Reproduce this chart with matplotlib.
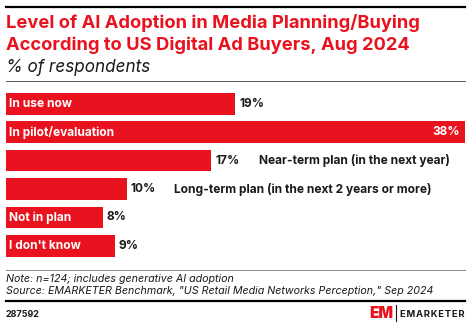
import matplotlib
matplotlib.use("Agg")
import matplotlib.pyplot as plt
from matplotlib.lines import Line2D

categories = ["In use now", "In pilot/evaluation", "Near-term plan (in the next year)",
              "Long-term plan (in the next 2 years or more)", "Not in plan", "I don't know"]
values = [19, 38, 17, 10, 8, 9]
labels_inside = [True, True, False, False, True, True]

title_lines = ["Level of AI Adoption in Media Planning/Buying",
               "According to US Digital Ad Buyers, Aug 2024"]
subtitle = "% of respondents"
note = "Note: n=124; includes generative AI adoption"
source = 'Source: EMARKETER Benchmark, "US Retail Media Networks Perception," Sep 2024'
chart_id = "287592"

RED = "#E8131F"
DARK = "#1a1a1a"
FONT = "Inter"

W, H = 470, 327
fig = plt.figure(figsize=(W / 100, H / 100), dpi=100)


def fx(px):
    return px / W


def fy(py):
    return 1 - py / H


# header rules and titles
fig.add_artist(Line2D([fx(6), fx(465)], [fy(7), fy(7)], color="black", lw=1.6))
for line, base in zip(title_lines, [28.5, 50.5]):
    fig.text(fx(6), fy(base), line, color=RED, fontsize=13.2, fontweight="bold",
             family=FONT, va="baseline", ha="left")
fig.text(fx(6), fy(72), subtitle, color=DARK, fontsize=12.3, style="italic",
         family=FONT, va="baseline", ha="left")
fig.add_artist(Line2D([fx(6), fx(465)], [fy(81), fy(81)], color="#555555", lw=0.7))

# bar chart
ax = fig.add_axes([fx(6), fy(260), fx(465) - fx(6), fy(89.6) - fy(260)])
ypos = list(range(len(values)))
ax.barh(ypos, values, height=0.757, color=RED, edgecolor="none")
ax.set_xlim(0, max(values))
ax.set_ylim(len(values) - 0.5, -0.5)
ax.axis("off")

for i, (cat, v, inside) in enumerate(zip(categories, values, labels_inside)):
    if v == max(values):
        ax.annotate(f"{v}%", (v, i), xytext=(-4, 0), textcoords="offset points",
                    ha="right", va="center", color="white", fontsize=8.6,
                    fontweight="bold", family=FONT)
    else:
        ax.annotate(f"{v}%", (v, i), xytext=(3, 0), textcoords="offset points",
                    ha="left", va="center", color=DARK, fontsize=8.6,
                    fontweight="bold", family=FONT)
    if inside:
        ax.annotate(cat, (0, i), xytext=(2.2, 0), textcoords="offset points",
                    ha="left", va="center", color="white", fontsize=8.6,
                    fontweight="bold", family=FONT)
    else:
        ax.annotate(cat, (v, i), xytext=(34, 0), textcoords="offset points",
                    ha="left", va="center", color=DARK, fontsize=8.6,
                    fontweight="bold", family=FONT)

# footer
fig.add_artist(Line2D([fx(6), fx(465)], [fy(270), fy(270)], color="#888888", lw=0.7))
for line, base in zip([note, source], [282.3, 294.3]):
    fig.text(fx(6), fy(base), line, color=DARK, fontsize=7.7, style="italic",
             family=FONT, va="baseline", ha="left")
fig.add_artist(Line2D([fx(6), fx(465)], [fy(301), fy(301)], color="black", lw=1.6))
fig.text(fx(6), fy(317), chart_id, color=DARK, fontsize=6.5, fontweight="bold",
         family=FONT, va="baseline", ha="left")

# logo
fig.text(fx(369), fy(318.5), "EM", color=RED, fontsize=11, fontweight="black",
         family=FONT, va="baseline", ha="left")
fig.add_artist(Line2D([fx(396), fx(396)], [fy(305), fy(321)], color=DARK, lw=0.8))
fig.text(fx(465), fy(317), "\u200a".join("EMARKETER"), color=DARK,
         fontsize=6.8, fontweight="bold", family=FONT, va="baseline", ha="right")

fig.savefig("out.png", dpi=100, facecolor="white")
